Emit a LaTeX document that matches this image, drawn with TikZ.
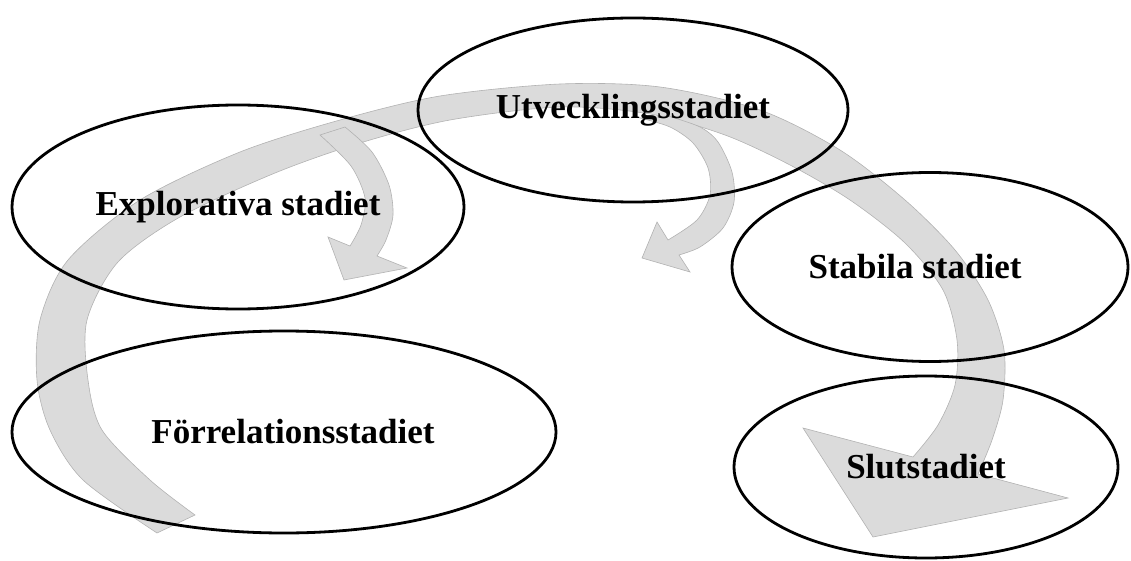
\documentclass[tikz,border=0pt]{standalone}
\usepackage{fontspec}
\setmainfont{Liberation Serif}
\usetikzlibrary{shapes.geometric}

\tikzset{
  stage/.style={ellipse, draw=black, line width=2.8pt, inner sep=0pt, font=\fontsize{35}{40}\selectfont\bfseries},
  band/.style={fill=black!14, draw=black!30, line width=0.6pt},
}

\begin{document}
\begin{tikzpicture}[x=1pt, y=-1pt]
  \useasboundingbox (0,0) rectangle (1131,561);

  % big curved arrow
  \filldraw[band] plot[smooth] coordinates {(157,533) (83,480) (50,430) (37,380) (40,320) (68,260) (140,200) (240,152) (340,120) (440,96) (560,84) (660,87) (760,110) (840,150) (905,200) (955,250) (988,300) (1004,350) (1003,400) (992,440) (978,474)}
    -- (1068,498) -- (873,537) -- (803,428)
    -- plot[smooth] coordinates {(913,457) (938,425) (955,385) (957,340) (943,290) (905,243) (850,200) (790,165) (725,135) (650,114) (560,107) (450,120) (360,143) (275,173) (180,217) (118,262) (87,320) (88,380) (102,430) (150,480) (195,515)}
    -- cycle;

  % small arrows
  \filldraw[band] plot[smooth] coordinates {(345,127) (372,152) (389,185) (393,215) (386,240) (377,256)}
    -- (407,268) -- (344,280) -- (328,237)
    -- plot[smooth] coordinates {(350,246) (361,225) (365,198) (351,166) (320,135)}
    -- cycle;
  \filldraw[band] plot[smooth] coordinates {(668,116) (700,127) (718,142) (732,172) (734,202) (723,228) (700,247) (679,255)}
    -- (690,272) -- (642,258) -- (657,222)
    -- plot[smooth] coordinates {(668,240) (697,220) (710,195) (708,168) (693,143) (670,127) (640,118)}
    -- cycle;

  \node[stage, minimum width=452pt, minimum height=204pt] (explor) at (238,207) {Explorativa stadiet};
  \node[stage, minimum width=430pt, minimum height=184pt] (utveckl) at (633,110) {Utvecklingsstadiet};
  \node[stage, minimum width=396pt, minimum height=189pt] (stabil) at (930,267) {\hspace*{-30pt}Stabila stadiet};
  \node[stage, minimum width=384pt, minimum height=182pt] (slut) at (926,467) {Slutstadiet};
  \node[stage, minimum width=544pt, minimum height=202pt] (forrel) at (284,432) {\hspace*{18pt}Förrelationsstadiet};

\end{tikzpicture}
\end{document}
